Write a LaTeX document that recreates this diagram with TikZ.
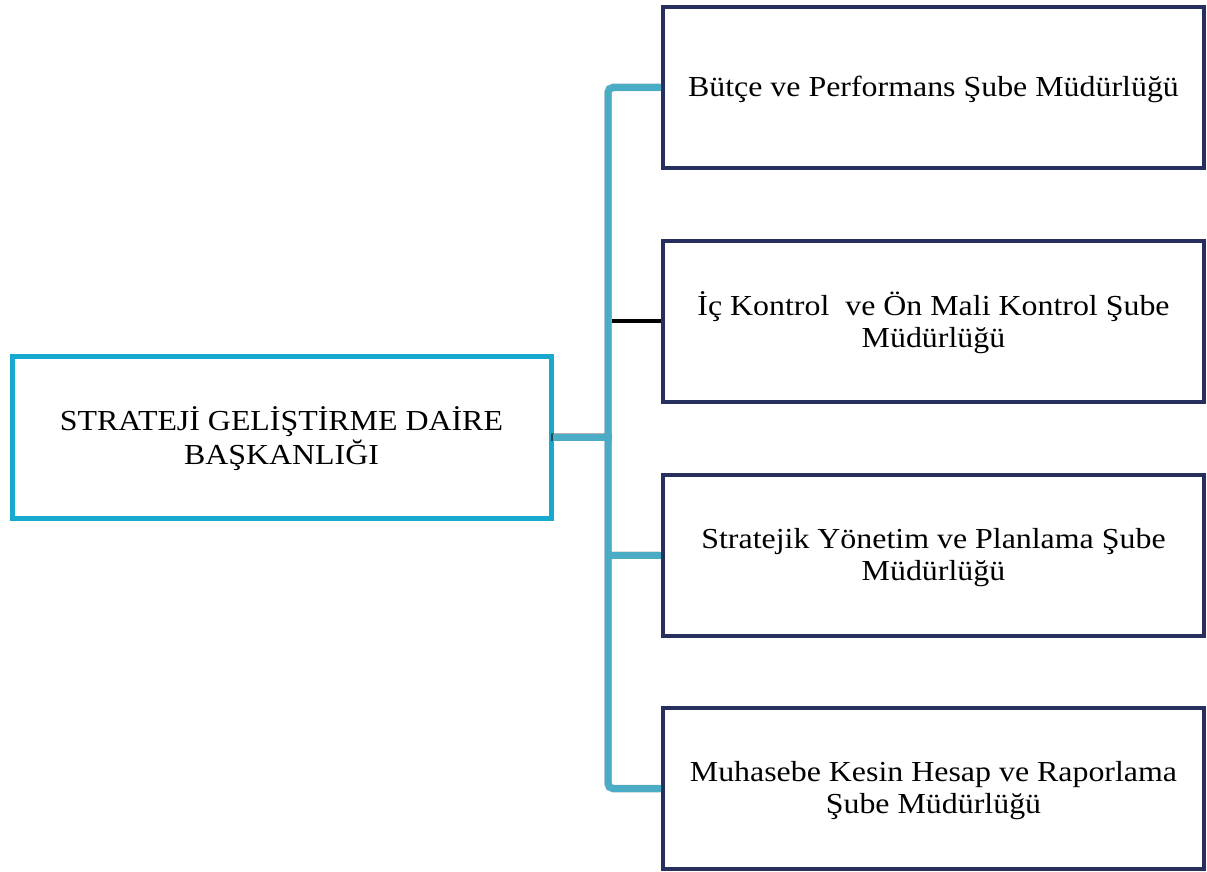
\documentclass[tikz,border=0pt]{standalone}
\usepackage{fontspec}
\setmainfont[FakeStretch=1.1]{Liberation Serif}
\definecolor{cyanbox}{HTML}{17A9CE}
\definecolor{navy}{HTML}{262F5E}
\definecolor{conn}{HTML}{4BACC6}
\newcommand\boxtext[1]{\raisebox{-3pt}[\height][\depth]{\begin{tabular}{@{}c@{}}#1\end{tabular}}}
\begin{document}
\begin{tikzpicture}[x=1pt,y=-1pt,
  lbox/.style={draw=cyanbox, line width=5pt, minimum width=539pt, minimum height=162pt, inner sep=0pt, outer sep=0pt, align=center, font=\fontsize{29}{32}\selectfont},
  rbox/.style={draw=navy, line width=4pt, minimum width=541pt, minimum height=161pt, inner sep=0pt, outer sep=0pt, align=center, font=\fontsize{29}{32}\selectfont},
  connector/.style={draw=conn, line width=7pt},
  shadowline/.style={draw=black, line width=8pt, opacity=0.12},
  blackconn/.style={draw=black, line width=4pt}]
\useasboundingbox (0,0) rectangle (1207,872);
\node[lbox] (L) at (281.5,437) {\boxtext{STRATEJİ GELİŞTİRME DAİRE\\BAŞKANLIĞI}};
\node[rbox] (b1) at (933.5,87.5) {\boxtext{Bütçe ve Performans Şube Müdürlüğü}};
\node[rbox] (b2) at (933.5,321) {\boxtext{İç Kontrol\ \ ve Ön Mali Kontrol Şube\\Müdürlüğü}};
\node[rbox] (b3) at (933.5,555) {\boxtext{Stratejik Yönetim ve Planlama Şube\\Müdürlüğü}};
\node[rbox] (b4) at (933.5,788.5) {\boxtext{Muhasebe Kesin Hesap ve Raporlama\\Şube Müdürlüğü}};
\coordinate (tr) at (608,0);
% shadows
\begin{scope}[shift={(3,4)}]
  \draw[shadowline, rounded corners=5pt] ([xshift=-3pt]b1.west) -- (b1.west -| tr) |- ([xshift=-3pt]b4.west);
  \draw[shadowline, opacity=0.3] (L.east) -- (L.east -| tr);
  \draw[shadowline] ([xshift=-3pt]b3.west) -- (b3.west -| tr);
\end{scope}
\begin{scope}[shift={(2,3)}]
  \draw[shadowline, line width=7pt, opacity=0.15, rounded corners=5pt] ([xshift=-3pt]b1.west) -- (b1.west -| tr) |- ([xshift=-3pt]b4.west);
  \draw[shadowline, line width=7pt, opacity=0.6, draw=black!85] (L.east) -- (L.east -| tr);
  \draw[shadowline, line width=7pt, opacity=0.15] ([xshift=-3pt]b3.west) -- (b3.west -| tr);
\end{scope}
% connectors
\draw[connector, rounded corners=5pt] ([xshift=-2pt]b1.west) -- (b1.west -| tr) |- ([xshift=-2pt]b4.west);
\draw[connector] ([xshift=2pt]L.east) -- ([xshift=3.5pt]L.east -| tr);
\draw[connector] ([xshift=-2pt]b3.west) -- (b3.west -| tr);
\draw[blackconn] ([xshift=-2pt]b2.west) -- ([xshift=3.5pt]b2.west -| tr);
\end{tikzpicture}
\end{document}
